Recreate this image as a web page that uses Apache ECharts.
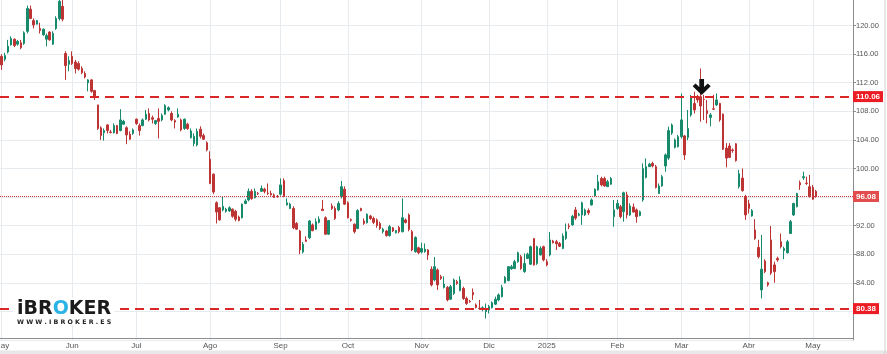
<!DOCTYPE html>
<html>
<head>
<meta charset="utf-8">
<script src="https://cdn.jsdelivr.net/npm/echarts@6/dist/echarts.min.js"></script>
<style>
  html, body { margin: 0; padding: 0; background: #fff; }
  #chart { width: 887px; height: 354px; }
</style>
</head>
<body>
<div id="chart"></div>
<script>
// dias de mercado (sin festivos) desde el 2 de mayo de 2024
const holidays = ['2024-05-01', '2024-12-24', '2024-12-25', '2024-12-26', '2024-12-31',
  '2025-01-01', '2025-04-18', '2025-04-21', '2025-05-01'];
const dates = [];
let d = new Date(Date.UTC(2024, 4, 2));
while (dates.length < 266) {
  const wd = d.getUTCDay();
  const s = d.toISOString().slice(0, 10);
  if (wd !== 0 && wd !== 6 && holidays.indexOf(s) < 0) dates.push(s);
  d.setUTCDate(d.getUTCDate() + 1);
}
const monthNames = ['Ene', 'Feb', 'Mar', 'Abr', 'May', 'Jun', 'Jul', 'Ago', 'Sep', 'Oct', 'Nov', 'Dic'];

const opens = [
  115.7, 115.3, 116.3, 117.3, 118.1, 117.4, 117.6, 117.5, 119.2, 122.3,
  120.7, 120.2, 119.6, 118.7, 118.1, 119.1, 117.4, 119.6, 121.0, 122.7,
  116.1, 114.6, 115.7, 114.9, 114.7, 114.0, 113.3, 112.0, 112.4, 110.9,
  108.9, 105.7, 105.0, 106.1, 105.1, 105.0, 106.0, 105.3, 106.2, 105.7,
  104.8, 104.9, 106.9, 106.0, 106.0, 106.9, 107.7, 107.1, 106.3, 107.0,
  106.8, 107.6, 108.2, 107.7, 106.7, 107.2, 106.8, 105.6, 106.2, 104.3,
  103.5, 103.3, 105.5, 104.6, 103.6, 101.3, 99.2, 95.2, 94.5, 94.2,
  94.0, 94.05, 94.3, 94.0, 93.2, 93.1, 95.1, 95.6, 96.8, 95.9,
  96.5, 96.8, 97.1, 96.55, 96.5, 96.3, 96.1, 96.4, 98.3, 94.9,
  94.4, 94.4, 92.3, 91.25, 88.3, 90.0, 90.3, 92.1, 91.5, 92.45,
  94.3, 93.1, 90.8, 94.75, 94.4, 94.2, 96.05, 97.1, 95.2, 92.85,
  92.2, 91.6, 94.4, 92.65, 92.4, 93.35, 93.0, 92.8, 92.3, 91.15,
  91.25, 90.6, 91.7, 91.0, 91.75, 91.15, 92.8, 93.5, 91.15, 88.35,
  88.9, 88.3, 88.35, 88.6, 85.9, 84.4, 85.8, 84.85, 83.35, 83.35,
  81.7, 82.5, 84.15, 82.9, 83.2, 81.8, 81.4, 82.65, 80.9, 80.45,
  80.3, 79.95, 80.2, 80.5, 81.0, 81.6, 82.05, 84.0, 84.3, 85.95,
  86.0, 86.95, 87.65, 85.55, 87.4, 86.6, 90.2, 86.7, 87.9, 89.05,
  86.95, 87.9, 89.85, 89.75, 89.5, 88.8, 90.2, 91.95, 92.1, 94.2,
  93.45, 93.5, 93.5, 94.1, 94.9, 96.15, 97.0, 98.6, 98.6, 97.45,
  97.8, 93.25, 94.4, 94.65, 93.95, 96.3, 93.5, 94.6, 94.2, 93.4,
  95.6, 98.75, 100.25, 100.7, 100.25, 96.5, 97.55, 100.35, 101.45, 104.95,
  102.95, 103.05, 104.45, 104.55, 104.35, 107.5, 109.1, 110.0, 110.05, 109.7,
  108.1, 107.15, 108.35, 108.9, 109.1, 107.6, 102.85, 103.15, 102.6, 103.45,
  97.45, 98.65, 96.05, 95.05, 93.35, 91.4, 88.95, 83.0, 87.05, 84.0,
  90.0, 86.5, 87.4, 89.75, 88.5, 88.2, 90.9, 93.5, 94.65, 98.0,
  98.7, 97.95, 97.45, 97.35, 96.8
];
const closes = [
  114.5, 115.8, 117.1, 118.2, 117.2, 117.8, 116.9, 119.0, 122.4, 121.0,
  120.1, 120.7, 119.3, 119.5, 118.6, 118.0, 118.9, 121.0, 123.4, 120.9,
  114.4, 115.1, 114.7, 114.0, 113.9, 113.4, 112.8, 112.4, 110.8, 110.0,
  105.6, 104.6, 105.3, 105.3, 105.05, 106.0, 104.9, 106.8, 106.6, 104.7,
  104.1, 105.4, 106.3, 105.3, 106.8, 107.6, 106.8, 106.9, 106.7, 106.6,
  107.4, 108.8, 108.5, 106.8, 106.5, 107.6, 105.4, 106.9, 105.6, 105.25,
  104.5, 105.2, 104.5, 104.1, 102.6, 97.9, 96.7, 93.9, 92.8, 94.7,
  94.3, 94.5, 93.3, 92.9, 92.7, 95.0, 95.45, 96.8, 95.8, 96.8,
  96.45, 97.2, 96.8, 96.5, 96.3, 95.95, 96.05, 97.7, 96.1, 95.2,
  95.0, 91.7, 91.5, 88.6, 89.4, 89.8, 92.65, 91.3, 92.55, 92.9,
  94.1, 90.8, 92.7, 94.4, 93.0, 95.1, 97.45, 95.0, 93.1, 92.75,
  91.15, 94.1, 94.1, 92.3, 93.6, 93.0, 92.45, 92.0, 91.6, 91.5,
  90.6, 91.85, 91.25, 91.3, 91.15, 93.1, 92.45, 91.45, 88.6, 90.35,
  88.2, 88.8, 88.7, 87.9, 83.7, 86.25, 83.7, 84.6, 83.8, 81.6,
  83.45, 84.4, 83.9, 84.4, 81.8, 81.1, 81.35, 82.3, 80.55, 80.4,
  80.5, 80.4, 80.65, 81.2, 81.7, 82.3, 83.35, 84.75, 86.25, 86.25,
  86.95, 88.2, 86.0, 86.7, 88.0, 89.05, 86.5, 89.05, 88.8, 87.2,
  86.5, 90.0, 89.6, 89.45, 89.1, 90.55, 91.15, 91.85, 93.3, 93.05,
  93.6, 95.2, 94.2, 93.8, 95.6, 97.1, 98.15, 97.7, 97.55, 98.15,
  98.6, 94.2, 95.1, 93.25, 96.6, 93.5, 94.75, 93.9, 93.25, 93.95,
  100.0, 100.25, 100.6, 100.35, 97.35, 97.55, 98.85, 101.9, 105.3, 106.1,
  104.0, 104.45, 106.8, 101.9, 105.6, 110.05, 108.2, 109.6, 108.75, 109.65,
  107.7, 107.5, 108.3, 109.6, 106.8, 102.7, 101.45, 101.55, 102.5, 101.1,
  99.25, 96.9, 93.5, 94.4, 94.1, 90.2, 87.65, 85.9, 85.55, 83.7,
  85.35, 85.55, 87.2, 89.05, 88.8, 89.75, 92.55, 95.1, 96.5, 97.7,
  98.85, 97.9, 96.05, 95.7, 96.08
];
const lows = [
  113.8, 115.0, 116.1, 117.2, 117.0, 117.2, 116.7, 117.3, 118.9, 120.9,
  119.6, 120.2, 118.9, 118.6, 117.1, 117.9, 117.3, 119.4, 120.7, 120.6,
  112.4, 113.6, 114.5, 113.3, 113.7, 113.2, 112.6, 110.8, 110.6, 109.6,
  105.4, 104.0, 103.9, 104.9, 104.9, 104.9, 104.8, 105.2, 106.1, 103.4,
  104.0, 104.7, 106.1, 104.6, 105.9, 106.8, 106.6, 106.3, 106.1, 104.2,
  106.6, 107.5, 108.0, 106.6, 105.6, 107.1, 105.2, 105.4, 105.4, 104.2,
  103.1, 103.1, 104.2, 104.0, 102.4, 97.8, 96.4, 92.3, 92.7, 94.0,
  93.8, 93.9, 93.1, 92.6, 92.6, 93.0, 95.0, 95.4, 95.6, 95.8,
  96.3, 96.7, 96.5, 96.3, 96.2, 95.9, 95.9, 96.2, 96.0, 94.8,
  94.3, 91.5, 91.4, 88.0, 88.1, 89.7, 90.1, 91.2, 91.4, 92.3,
  94.1, 90.7, 90.7, 94.2, 92.8, 94.0, 95.8, 94.9, 93.0, 92.55,
  90.9, 91.5, 94.0, 92.1, 92.3, 92.8, 92.2, 91.7, 91.4, 90.9,
  90.45, 90.45, 91.1, 90.9, 90.9, 91.05, 92.3, 91.2, 88.4, 88.2,
  88.0, 88.1, 88.2, 87.2, 83.5, 84.2, 83.0, 84.4, 83.2, 81.4,
  81.6, 82.3, 83.7, 82.8, 81.6, 80.9, 81.2, 81.6, 80.4, 80.2,
  80.0, 79.0, 79.7, 80.4, 80.9, 81.4, 81.95, 83.9, 84.2, 85.8,
  85.9, 86.8, 85.8, 85.4, 87.3, 86.5, 86.4, 86.5, 87.8, 87.0,
  86.3, 87.7, 89.5, 88.6, 89.0, 88.7, 90.0, 91.5, 92.0, 92.8,
  93.3, 92.1, 93.35, 93.5, 94.8, 96.05, 96.9, 97.5, 97.45, 97.45,
  97.7, 91.85, 94.2, 93.0, 92.55, 93.0, 93.35, 93.8, 92.4, 93.3,
  95.35, 98.6, 100.2, 100.15, 97.2, 96.45, 97.45, 99.55, 101.2, 104.7,
  102.8, 102.95, 104.2, 101.2, 103.95, 107.25, 107.7, 109.2, 106.55, 106.8,
  106.3, 105.9, 108.2, 108.75, 106.55, 102.6, 100.15, 101.45, 102.2, 100.95,
  97.2, 96.75, 92.8, 93.7, 93.25, 90.0, 87.4, 81.8, 85.35, 83.45,
  85.1, 84.0, 86.95, 88.8, 87.3, 88.1, 90.85, 93.35, 94.55, 97.0,
  98.4, 97.7, 95.95, 95.6, 95.9
];
const highs = [
  116.0, 116.2, 118.0, 118.5, 118.2, 118.0, 118.0, 119.2, 122.8, 122.8,
  121.0, 120.8, 120.4, 119.6, 118.9, 119.2, 119.2, 121.3, 123.6, 124.2,
  116.4, 115.7, 116.4, 115.2, 115.0, 114.3, 113.6, 112.5, 112.5, 111.0,
  108.9, 105.9, 105.6, 106.2, 105.4, 106.3, 106.1, 108.3, 106.8, 105.9,
  105.2, 105.6, 107.0, 106.3, 107.0, 108.2, 108.4, 107.4, 106.8, 108.4,
  107.7, 109.0, 108.7, 108.0, 106.9, 108.4, 107.0, 107.0, 106.4, 105.6,
  104.9, 105.6, 105.9, 104.9, 103.8, 102.4, 99.3, 95.4, 94.6, 96.1,
  94.5, 94.7, 94.4, 94.2, 93.4, 95.1, 95.7, 97.2, 97.1, 97.2,
  96.7, 97.6, 97.3, 97.9, 96.9, 96.5, 96.3, 98.6, 98.6, 95.8,
  95.2, 94.7, 92.5, 91.4, 89.7, 90.5, 92.8, 92.3, 93.0, 93.3,
  95.6, 93.3, 92.8, 95.1, 94.7, 95.4, 98.25, 97.5, 95.4, 93.0,
  92.3, 94.3, 94.5, 93.0, 93.7, 93.5, 93.25, 93.0, 92.55, 91.7,
  91.4, 92.1, 91.8, 91.4, 91.95, 95.8, 93.0, 93.7, 91.4, 90.5,
  89.05, 89.6, 89.5, 88.7, 86.3, 87.6, 86.0, 85.1, 84.9, 83.55,
  83.7, 84.6, 84.4, 84.9, 83.45, 82.05, 81.6, 83.2, 81.1, 81.6,
  80.7, 81.1, 80.9, 81.4, 82.05, 82.5, 83.7, 84.95, 86.35, 86.5,
  87.2, 88.35, 87.9, 88.1, 88.2, 89.2, 90.2, 89.2, 89.1, 89.2,
  87.3, 91.1, 90.0, 90.0, 89.7, 90.9, 92.3, 92.3, 93.5, 94.6,
  93.8, 95.35, 94.4, 94.4, 95.8, 97.2, 99.1, 98.85, 98.85, 98.4,
  98.8, 95.6, 95.6, 94.9, 96.75, 96.75, 95.1, 95.1, 94.4, 94.1,
  100.7, 101.4, 100.8, 100.95, 100.5, 97.9, 99.1, 102.1, 105.85, 106.3,
  104.2, 104.7, 110.5, 104.7, 108.2, 110.3, 110.75, 110.3, 114.0, 110.3,
  109.6, 107.75, 110.3, 110.5, 109.2, 107.7, 103.55, 103.55, 102.8, 103.55,
  99.8, 100.0, 96.3, 95.6, 94.3, 92.9, 90.0, 90.7, 87.3, 84.15,
  91.95, 86.95, 87.65, 90.9, 89.05, 90.0, 92.8, 95.2, 96.6, 98.3,
  99.55, 98.85, 99.1, 97.7, 97.0
];

// niveles marcados
const resistance = 110.06;
const support = 80.38;
const lastPrice = 96.08;
const arrowIdx = 218;
const arrowPrice = 110.3;

const ohlc = opens.map((o, i) => [o, closes[i], lows[i], highs[i]]);

function isMonthStart(i) {
  return i === 0 || dates[i].slice(0, 7) !== dates[i - 1].slice(0, 7);
}
function monthLabel(s) {
  const m = +s.slice(5, 7);
  return m === 1 ? s.slice(0, 4) : monthNames[m - 1];
}

const gridCol = '#e6ebef';
const axisCol = '#8c8c8c';
const font = 'Liberation Sans';

const myChart = echarts.init(document.getElementById('chart'));
myChart.setOption({
  animation: false,
  grid: { left: 0, right: 34, top: -2.97, bottom: 14.1, outerBoundsMode: 'none', containLabel: false },
  xAxis: {
    type: 'category',
    data: dates,
    boundaryGap: true,
    offset: -2,
    axisLine: { lineStyle: { color: axisCol } },
    axisTick: { show: false },
    axisLabel: {
      interval: (i) => isMonthStart(i),
      formatter: (v) => monthLabel(v),
      color: '#555', fontSize: 8, margin: 4, fontFamily: font
    },
    splitLine: {
      show: true,
      interval: (i) => isMonthStart(i),
      alignWithLabel: true,
      lineStyle: { color: gridCol }
    }
  },
  yAxis: {
    type: 'value',
    position: 'right',
    min: 76, max: 124, interval: 4,
    axisLine: { show: true, lineStyle: { color: axisCol } },
    axisTick: { show: true, length: 3, lineStyle: { color: axisCol } },
    axisLabel: {
      color: '#555', fontSize: 7.5, margin: 3, fontFamily: font,
      showMinLabel: false, showMaxLabel: false,
      formatter: (v) => v.toFixed(2)
    },
    splitLine: { lineStyle: { color: gridCol } }
  },
  series: [{
    type: 'candlestick',
    data: ohlc,
    barWidth: 2,
    itemStyle: {
      color: '#178a6b', color0: '#bd3434',
      borderColor: '#178a6b', borderColor0: '#bd3434',
      borderWidth: 1
    },
    markLine: {
      silent: true,
      symbol: ['none', 'none'],
      label: {
        show: true, position: 'end', distance: 0,
        color: '#fff', fontSize: 8, fontWeight: 'bold', fontFamily: font,
        padding: [1, 3, 1, 3], lineHeight: 9,
        formatter: (p) => p.value.toFixed(2)
      },
      data: [
        { yAxis: resistance, lineStyle: { color: '#d92626', width: 2, type: [9, 6] },
          label: { backgroundColor: '#ec1c24' } },
        { yAxis: lastPrice, lineStyle: { color: '#d23a3a', width: 1, type: [1, 1] },
          label: { backgroundColor: '#e24c4c' } },
        { yAxis: support, lineStyle: { color: '#d92626', width: 2, type: [9, 6] },
          label: { backgroundColor: '#ec1c24' } }
      ]
    },
    markPoint: {
      silent: true,
      data: [{
        coord: [dates[arrowIdx], arrowPrice],
        symbol: 'path://M7.5,0L12.5,0L12.5,9L16.5,5L19.5,8L10,17.5L0.5,8L3.5,5L7.5,9Z',
        symbolSize: [18, 16],
        symbolOffset: [1, '-50%'],
        itemStyle: { color: '#111' },
        label: { show: false }
      }]
    }
  }],
  graphic: [
    { type: 'rect', z: 100, shape: { x: 13, y: 298, width: 101, height: 27 }, style: { fill: '#fff' } },
    { type: 'text', z: 101, x: 17, y: 309,
      style: {
        text: '{a|iBR}{b|O}{a|KER}',
        font: 'bold 19px "DejaVu Sans"',
        textVerticalAlign: 'middle',
        rich: {
          a: { fill: '#1b1b1b', font: 'bold 19px "DejaVu Sans"' },
          b: { fill: '#2bb3e6', font: 'bold 19px "DejaVu Sans"' }
        }
      } },
    { type: 'text', z: 101, x: 17, y: 322,
      style: { text: 'W W W . I B R O K E R . E S', font: 'bold 6.3px "DejaVu Sans"', fill: '#222', textVerticalAlign: 'middle' } },
    { type: 'rect', z: 100, shape: { x: 0, y: 350.5, width: 887, height: 4 }, style: { fill: '#e8e8e8' } },
    { type: 'rect', z: 100, shape: { x: 884.5, y: 0, width: 1, height: 354 }, style: { fill: '#cfcfcf' } }
  ]
});
</script>
</body>
</html>
